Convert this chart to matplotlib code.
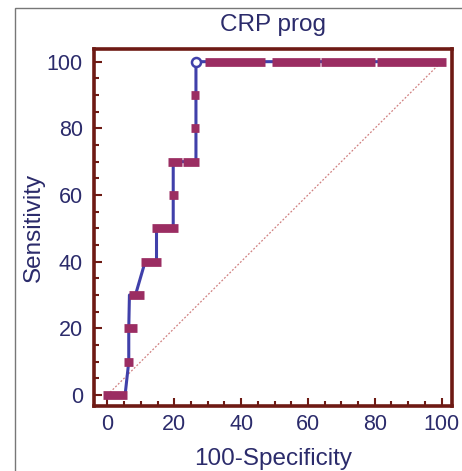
import numpy as np
import matplotlib.pyplot as plt
from matplotlib.ticker import MultipleLocator
from matplotlib.patches import Rectangle

# ROC curve points (100-Specificity, Sensitivity)
fpr = [0, 5.3, 6.4, 6.4, 6.6, 8.4, 11.3, 14.7, 14.7, 19.7, 19.7, 19.7, 26.5, 26.5, 26.5, 26.5, 100]
tpr = [0, 0, 10, 20, 30, 30, 40, 40, 50, 50, 60, 70, 70, 80, 90, 100, 100]

# marker bars drawn at criterion points
bar_y = [0, 10, 20, 30, 40, 50, 60, 70, 70, 80, 90, 100, 100, 100, 100]
bar_x0 = [-1.2, 5.0, 5.0, 6.5, 10.2, 13.3, 18.5, 18.2, 22.7, 25.0, 25.0, 29.2, 49.3, 64.0, 80.6]
bar_x1 = [5.9, 7.7, 9.0, 11.0, 15.9, 21.2, 21.1, 22.3, 27.4, 27.5, 27.5, 47.2, 63.6, 80.0, 101.3]

navy = "#2b2b6b"
darkred = "#6e1a14"

plt.rcParams['font.family'] = ['Liberation Sans', 'DejaVu Sans']

fig = plt.figure(figsize=(4.62, 4.71), dpi=100)
fig.patches.append(Rectangle((15 / 462, -0.1), 1.2, (471 - 8) / 471 + 0.1,
                             transform=fig.transFigure, fill=False,
                             edgecolor="#777777", linewidth=1))

ax = fig.add_axes([94 / 462, 65 / 471, 358 / 462, 357 / 471])

ax.plot([0, 100], [0, 100], color="#d08080", lw=0.9, ls=(0, (1.5, 1.5)))
ax.plot(fpr, tpr, color="#4040aa", lw=2.2, zorder=3)
for y, a, b in zip(bar_y, bar_x0, bar_x1):
    ax.plot([a, b], [y, y], color="#9b2d62", lw=6.3, solid_capstyle="butt", zorder=4)
ax.plot([26.5], [100], "o", ms=6.5, mfc="white", mec="#4040aa", mew=1.8, zorder=5)

ax.set_xlim(-4.0, 103.1)
ax.set_ylim(-3.3, 103.8)
ax.xaxis.set_major_locator(MultipleLocator(20))
ax.xaxis.set_minor_locator(MultipleLocator(5))
ax.yaxis.set_major_locator(MultipleLocator(20))
ax.yaxis.set_minor_locator(MultipleLocator(5))
ax.tick_params(which="both", direction="in", color=darkred, width=1.5,
               labelsize=15.5, labelcolor=navy, top=False, right=False)
ax.tick_params(which="major", length=6)
ax.tick_params(which="minor", length=3.5)
ax.tick_params(axis="y", pad=8)
ax.tick_params(axis="x", pad=6)
for s in ax.spines.values():
    s.set_color(darkred)
    s.set_linewidth(2.6)

ax.set_title("CRP prog", fontsize=17.5, color=navy, pad=13)
ax.set_xlabel("100-Specificity", fontsize=17.5, color=navy, labelpad=9)
ax.set_ylabel("Sensitivity", fontsize=17.5, color=navy, labelpad=1)

fig.savefig("out.png", dpi=100)
